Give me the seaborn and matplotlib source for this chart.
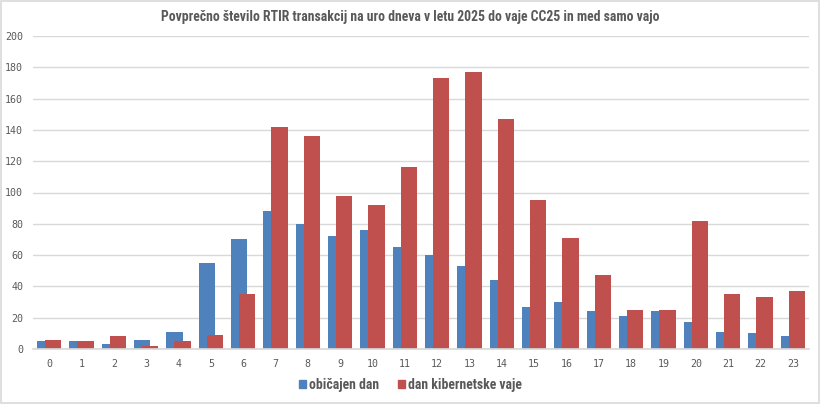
import numpy as np
import pandas as pd
import seaborn as sns
import matplotlib.pyplot as plt
from matplotlib.patches import Rectangle, Patch

# hours of the day
hours = list(range(24))
# average number of RTIR transactions per hour
obicajen = [5, 5, 3, 6, 11, 55, 70, 88, 80, 72, 76, 65,
            60, 53, 44, 27, 30, 24, 21, 24, 17, 11, 10, 8]
vaja = [6, 5, 8, 2, 5, 9, 35, 142, 136, 98, 92, 116,
        173, 177, 147, 95, 71, 47, 25, 25, 82, 35, 33, 37]
series_names = ["običajen dan", "dan kibernetske vaje"]
title = "Povprečno število RTIR transakcij na uro dneva v letu 2025 do vaje CC25 in med samo vajo"

blue = "#4F81BD"
red = "#C0504D"
grey_txt = "#595959"
narrow = ["Roboto Condensed", "Archivo Narrow", "Barlow Semi Condensed", "DejaVu Sans"]

sns.set_theme(style="white")
plt.rcParams["font.family"] = ["DejaVu Sans"]

fig = plt.figure(figsize=(8.21, 4.04), dpi=100)
ax = fig.add_axes([33 / 821, 55 / 404, 776 / 821, 313 / 404])

ax.yaxis.grid(True, color="#D9D9D9", linewidth=1)
ax.set_axisbelow(True)

# blue bars sit behind the red ones, shifted a little to the left
df1 = pd.DataFrame({"x": np.array(hours) - 0.125, "y": obicajen})
df2 = pd.DataFrame({"x": np.array(hours) + 0.125, "y": vaja})
sns.barplot(data=df1, x="x", y="y", native_scale=True, width=0.5,
            color=blue, saturation=1, ax=ax, errorbar=None, linewidth=0)
sns.barplot(data=df2, x="x", y="y", native_scale=True, width=0.5,
            color=red, saturation=1, ax=ax, errorbar=None, linewidth=0)

ax.set_xlim(-0.5, 23.5)
ax.set_ylim(0, 200)
ax.set_xticks(hours)
ax.set_xticklabels([str(h) for h in hours])
ax.set_yticks(range(0, 201, 20))
ax.set_xlabel("")
ax.set_ylabel("")
for s in ["top", "right", "left"]:
    ax.spines[s].set_visible(False)
ax.spines["bottom"].set_color("#D9D9D9")
ax.tick_params(axis="both", length=0, labelsize=7.2, labelcolor=grey_txt)
ax.tick_params(axis="y", pad=7)
ax.tick_params(axis="x", pad=7)
for lab in ax.get_xticklabels() + ax.get_yticklabels():
    lab.set_family("DejaVu Sans Mono")

fig.text(0.5, 1 - 17 / 404, title, ha="center", va="center",
         family=narrow, weight="bold", size=9.9, color=grey_txt)

handles = [Patch(color=blue), Patch(color=red)]
fig.legend(handles, series_names, loc="center", bbox_to_anchor=(0.5, 1 - 385 / 404),
           ncol=2, frameon=False, handlelength=0.5, handleheight=0.5,
           handletextpad=0.25, columnspacing=1.35,
           prop={"family": narrow, "weight": "bold", "size": 9.9},
           labelcolor=grey_txt)

fig.patches.append(Rectangle((0.001, 0.002), 0.997, 0.995, transform=fig.transFigure,
                             fill=False, edgecolor="#D9D9D9", linewidth=1.2))

fig.savefig("out.png", dpi=100)
